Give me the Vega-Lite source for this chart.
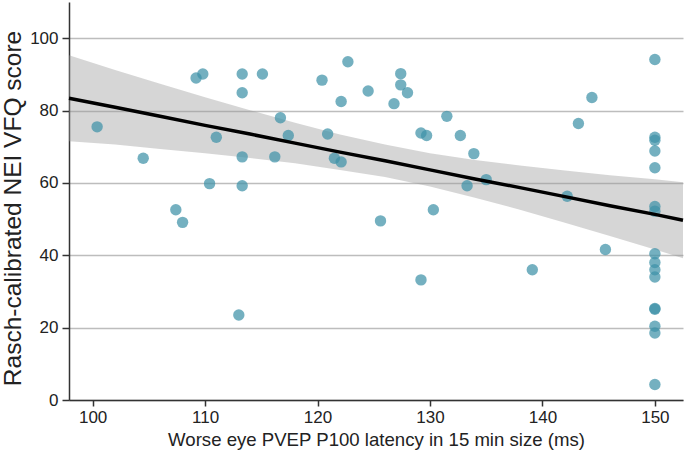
{
  "$schema": "https://vega.github.io/schema/vega-lite/v6.json",
  "width": 614,
  "height": 398,
  "autosize": {"type": "none"},
  "padding": {"left": 69, "top": 2, "right": 2, "bottom": 57},
  "background": "white",
  "config": {
    "view": {"stroke": null},
    "font": "Liberation Sans",
    "axis": {
      "domainColor": "#333333",
      "domainWidth": 1.5,
      "tickColor": "#333333",
      "tickWidth": 1.5,
      "labelFontSize": 17,
      "labelColor": "#222222",
      "titleFontWeight": "normal",
      "titleColor": "#222222"
    }
  },
  "datasets": {
    "pts": [
      {"latency": 100.4, "score": 75.5},
      {"latency": 104.5, "score": 66.8},
      {"latency": 107.4, "score": 52.6},
      {"latency": 108.0, "score": 49.1},
      {"latency": 113.0, "score": 23.5},
      {"latency": 109.2, "score": 89.0},
      {"latency": 109.8, "score": 90.1},
      {"latency": 113.3, "score": 90.1},
      {"latency": 115.1, "score": 90.1},
      {"latency": 113.3, "score": 84.9},
      {"latency": 116.7, "score": 78.0},
      {"latency": 111.0, "score": 72.6},
      {"latency": 113.3, "score": 67.2},
      {"latency": 116.2, "score": 67.2},
      {"latency": 110.4, "score": 59.8},
      {"latency": 113.3, "score": 59.2},
      {"latency": 117.4, "score": 73.1},
      {"latency": 120.4, "score": 88.4},
      {"latency": 122.7, "score": 93.5},
      {"latency": 122.1, "score": 82.5},
      {"latency": 120.9, "score": 73.5},
      {"latency": 121.5, "score": 66.8},
      {"latency": 122.1, "score": 65.8},
      {"latency": 124.5, "score": 85.4},
      {"latency": 127.4, "score": 90.2},
      {"latency": 127.4, "score": 87.1},
      {"latency": 128.0, "score": 84.9},
      {"latency": 126.8, "score": 81.9},
      {"latency": 129.2, "score": 73.8},
      {"latency": 129.7, "score": 73.1},
      {"latency": 131.5, "score": 78.4},
      {"latency": 132.7, "score": 73.1},
      {"latency": 133.9, "score": 68.1},
      {"latency": 133.3, "score": 59.2},
      {"latency": 130.3, "score": 52.6},
      {"latency": 125.6, "score": 49.5},
      {"latency": 129.2, "score": 33.2},
      {"latency": 135.0, "score": 60.9},
      {"latency": 142.2, "score": 56.3},
      {"latency": 143.2, "score": 76.4},
      {"latency": 144.4, "score": 83.6},
      {"latency": 145.6, "score": 41.6},
      {"latency": 139.1, "score": 36.0},
      {"latency": 150, "score": 94.1},
      {"latency": 150, "score": 72.6},
      {"latency": 150, "score": 71.8},
      {"latency": 150, "score": 68.8},
      {"latency": 150, "score": 64.2},
      {"latency": 150, "score": 53.5},
      {"latency": 150, "score": 52.2},
      {"latency": 150, "score": 40.4},
      {"latency": 150, "score": 38.0},
      {"latency": 150, "score": 36.0},
      {"latency": 150, "score": 34.0},
      {"latency": 150, "score": 25.3},
      {"latency": 150, "score": 25.1},
      {"latency": 150, "score": 20.4},
      {"latency": 150, "score": 18.5},
      {"latency": 150, "score": 4.3}
    ],
    "fit": [
      {"latency": 97.9, "fit": 83.4, "lo": 71.5, "hi": 95.3},
      {"latency": 102, "fit": 80.9, "lo": 70.6, "hi": 91.2},
      {"latency": 106, "fit": 78.4, "lo": 69.4, "hi": 87.4},
      {"latency": 110, "fit": 75.9, "lo": 68.2, "hi": 83.7},
      {"latency": 114, "fit": 73.5, "lo": 66.9, "hi": 80.1},
      {"latency": 118, "fit": 71.0, "lo": 65.4, "hi": 76.6},
      {"latency": 122, "fit": 68.5, "lo": 63.6, "hi": 73.4},
      {"latency": 126, "fit": 66.1, "lo": 61.6, "hi": 70.6},
      {"latency": 130, "fit": 63.6, "lo": 59.0, "hi": 68.2},
      {"latency": 134, "fit": 61.1, "lo": 55.9, "hi": 66.3},
      {"latency": 138, "fit": 58.7, "lo": 52.6, "hi": 64.8},
      {"latency": 142, "fit": 56.2, "lo": 49.0, "hi": 63.4},
      {"latency": 146, "fit": 53.7, "lo": 45.3, "hi": 62.1},
      {"latency": 150, "fit": 51.3, "lo": 41.6, "hi": 61.0},
      {"latency": 152.5, "fit": 49.7, "lo": 39.2, "hi": 60.2}
    ]
  },
  "layer": [
    {
      "data": {"name": "fit"},
      "mark": {"type": "area", "color": "#999999", "opacity": 0.4},
      "encoding": {
        "x": {
          "field": "latency", "type": "quantitative",
          "scale": {"domain": [97.9, 152.5], "nice": false, "zero": false},
          "axis": {
            "title": "Worse eye PVEP P100 latency in 15 min size (ms)",
            "values": [100, 110, 120, 130, 140, 150],
            "grid": false,
            "tickSize": 6,
            "labelPadding": 3,
            "titleFontSize": 18.6,
            "titlePadding": 5
          }
        },
        "y": {
          "field": "lo", "type": "quantitative",
          "scale": {"domain": [0, 110], "nice": false},
          "axis": {
            "title": "Rasch-calibrated NEI VFQ score",
            "values": [0, 20, 40, 60, 80, 100],
            "grid": true,
            "gridColor": "#bdbdbd",
            "gridWidth": 1.3,
            "tickSize": 7,
            "labelPadding": 4,
            "titleFontSize": 24.5,
            "titlePadding": 4,
            "titleY": 206
          }
        },
        "y2": {"field": "hi"}
      }
    },
    {
      "data": {"name": "pts"},
      "mark": {"type": "circle", "size": 130, "color": "#3f92a8", "opacity": 0.72},
      "encoding": {
        "x": {"field": "latency", "type": "quantitative"},
        "y": {"field": "score", "type": "quantitative"}
      }
    },
    {
      "data": {"name": "fit"},
      "mark": {"type": "line", "color": "black", "strokeWidth": 3.5},
      "encoding": {
        "x": {"field": "latency", "type": "quantitative"},
        "y": {"field": "fit", "type": "quantitative"}
      }
    }
  ]
}
